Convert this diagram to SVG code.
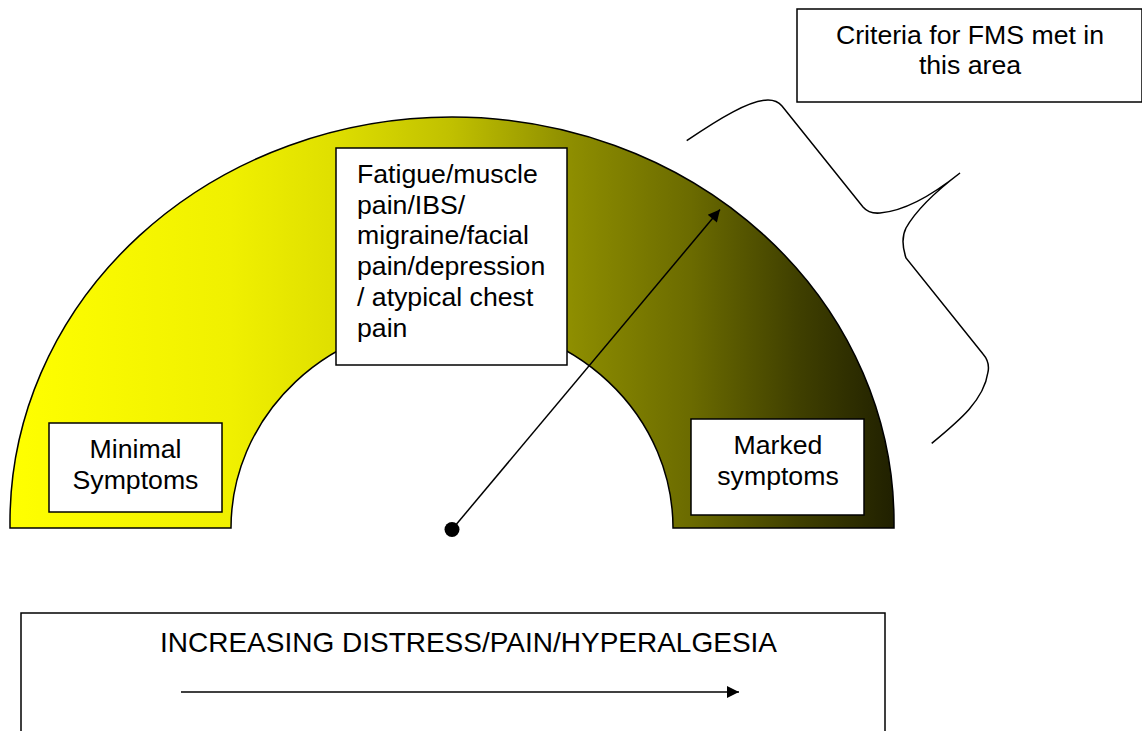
<svg xmlns="http://www.w3.org/2000/svg" width="1142" height="731" viewBox="0 0 1142 731">
  <style>
    text { font-family: "Liberation Sans", Arial, sans-serif; fill: #000; }
    .box { fill: #fff; stroke: #000; stroke-width: 1.5; }
    .lbl { font-size: 26.67px; }
    .line { fill: none; stroke: #000; stroke-width: 1.5; }
  </style>
  <defs>
    <linearGradient id="grad" gradientUnits="userSpaceOnUse" x1="10" y1="0" x2="894" y2="0">
      <stop offset="0" stop-color="#ffff00"/>
      <stop offset="0.25" stop-color="#f0f000"/>
      <stop offset="0.36" stop-color="#e0e000"/>
      <stop offset="0.5" stop-color="#c0c000"/>
      <stop offset="0.63" stop-color="#8f8f00"/>
      <stop offset="0.77" stop-color="#6b6b00"/>
      <stop offset="0.89" stop-color="#404000"/>
      <stop offset="1" stop-color="#202000"/>
    </linearGradient>
    <marker id="arrow" viewBox="0 0 10 10" refX="10" refY="5" markerWidth="10" markerHeight="9" markerUnits="userSpaceOnUse" orient="auto">
      <path d="M0,0 L10,5 L0,10 Z" fill="#000"/>
    </marker>
    <marker id="arrowL" viewBox="0 0 10 10" refX="10" refY="5" markerWidth="15" markerHeight="12" markerUnits="userSpaceOnUse" orient="auto">
      <path d="M0,0 L10,5 L0,10 Z" fill="#000"/>
    </marker>
  </defs>

  <g id="arch">
    <path d="M 10,528 L 10,522 A 442 405 0 0 1 894,522 L 894,528 L 673,528 A 221 207 0 0 0 231,528 Z" fill="url(#grad)" stroke="#000" stroke-width="1.5"/>
  </g>

  <g id="node-fatigue">
    <rect class="box" x="336" y="148" width="231" height="217"/>
    <text class="lbl" x="357" y="183">Fatigue/muscle</text>
    <text class="lbl" x="357" y="213.5">pain/IBS/</text>
    <text class="lbl" x="357" y="244">migraine/facial</text>
    <text class="lbl" x="357" y="275">pain/depression</text>
    <text class="lbl" x="357" y="305.5">/ atypical chest</text>
    <text class="lbl" x="357" y="336.5">pain</text>
  </g>

  <g id="node-minimal">
    <rect class="box" x="49" y="423" width="173" height="89"/>
    <text class="lbl" x="135.5" y="458" text-anchor="middle">Minimal</text>
    <text class="lbl" x="135.5" y="488.5" text-anchor="middle">Symptoms</text>
  </g>

  <g id="node-marked">
    <rect class="box" x="691" y="419" width="173" height="96"/>
    <text class="lbl" x="778" y="454" text-anchor="middle">Marked</text>
    <text class="lbl" x="778" y="484.5" text-anchor="middle">symptoms</text>
  </g>

  <g id="node-criteria">
    <rect class="box" x="797" y="9" width="345" height="93"/>
    <text class="lbl" x="970" y="43.5" text-anchor="middle">Criteria for FMS met in</text>
    <text class="lbl" x="970" y="74" text-anchor="middle">this area</text>
  </g>

  <g id="brace">
    <path class="line" d="M 686.7,140.7 C 720,118 750,100 768,100 Q 777,100 782,106 L 863,207 Q 869,214 880,213 C 905,211 935,193 960,173 C 935,192 915,212 906,228 Q 900,240 906,258 L 983,354 Q 990,362 988,372 C 984,400 960,420 931.7,443.3"/>
  </g>

  <g id="node-scale">
    <rect class="box" x="21" y="613" width="864" height="130"/>
    <text x="160" y="652" font-size="27.9" textLength="617" lengthAdjust="spacingAndGlyphs">INCREASING DISTRESS/PAIN/HYPERALGESIA</text>
  </g>

  <g id="connectors">
    <line class="line" x1="452" y1="529.5" x2="720" y2="209.5" marker-end="url(#arrowL)"/>
    <circle cx="452" cy="529.5" r="7.5" fill="#000"/>
    <line class="line" x1="181" y1="692" x2="739" y2="692" marker-end="url(#arrowL)"/>
  </g>
</svg>
